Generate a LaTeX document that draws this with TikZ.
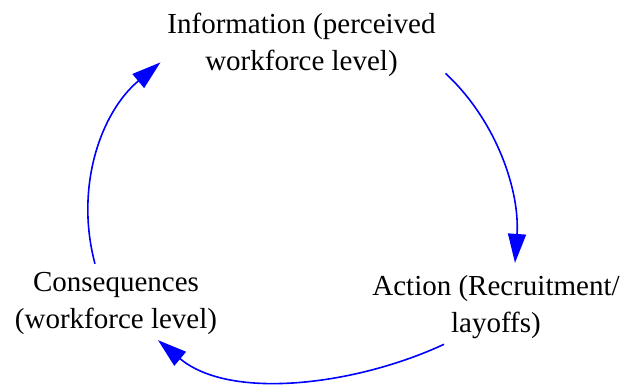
\documentclass[tikz,border=0pt]{standalone}
\usepackage{fontspec}
\setmainfont{Liberation Serif}
\definecolor{CLDcolArrow}{HTML}{0000ff}
\usetikzlibrary{arrows.meta}

\begin{document}
\begin{tikzpicture}[y=1pt, x=1pt, inner sep=0pt, outer sep=0pt,
  cldtext/.style={align=center, font=\fontsize{29}{37}\selectfont},
  cldlink/.style={draw=CLDcolArrow, line width=1.6pt,
    -{Triangle[length=29pt,width=18pt]}}]
  \useasboundingbox (0,0) rectangle (628,385);
  \node[cldtext] (info) at (301.5,340.4) {Information (perceived\\workforce level)};
  \node[cldtext] (action) at (496,78.4) {Action (Recruitment/\\layoffs)};
  \node[cldtext] (conseq) at (116,82) {Consequences\\(workforce level)};
  \path[cldlink] ([xshift=10pt,yshift=3pt]info.south east) to[out=-43,in=86,looseness=0.9]
    ([xshift=19pt,yshift=12pt]action.north);
  \path[cldlink] ([xshift=-52pt,yshift=-6pt]action.south) to[out=205,in=-40,looseness=0.85]
    ([xshift=42pt,yshift=-6pt]conseq.south);
  \path[cldlink] ([xshift=-21pt,yshift=8pt]conseq.north) to[out=105,in=220,looseness=0.95]
    ([xshift=-7pt,yshift=14pt]info.south west);
\end{tikzpicture}
\end{document}
